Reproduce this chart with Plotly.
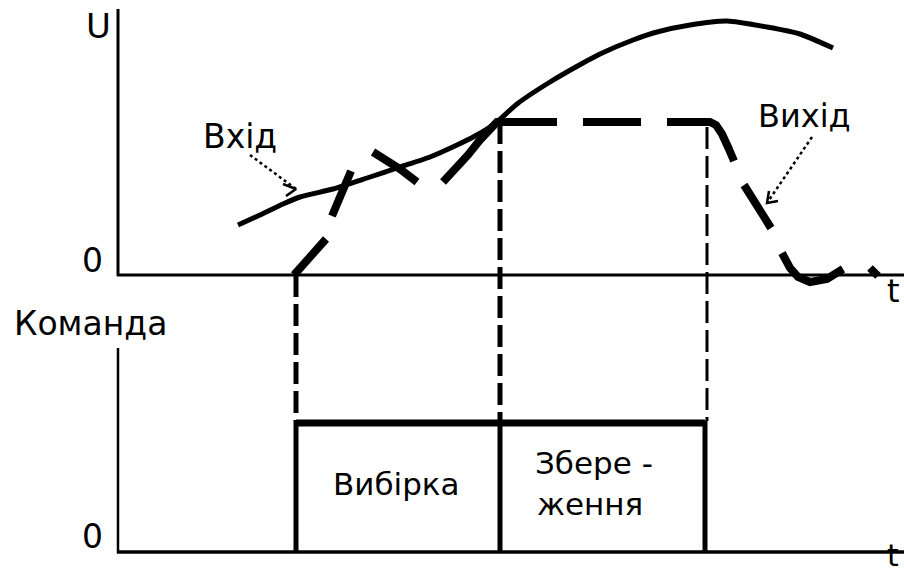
import plotly.graph_objects as go

# Diagram coordinates (horizontal position t, vertical position measured downward)
# Input signal (solid)
input_t = [238, 260, 283, 300, 333, 367, 400, 430, 457, 475, 490, 497, 517, 550, 583,
           600, 633, 657, 690, 727, 767, 800, 833]
input_u = [225, 215, 204, 197, 189, 178, 167, 157, 145, 136, 127, 122, 104, 82, 63,
           54, 40, 32, 25, 21, 27, 34, 48]

# Output signal (thick dashed; None = gap)
output_t = [294, 302, 310, 318, 326, None,
            332, 338, 344, 351, None,
            373, 385, 400, 417, None,
            443, 455, 468, 480, 490, 497, 557, None,
            583, 641, None,
            667, 710, 716, 722, 728, 734, None,
            744, 757, 771, None,
            782, 790, 798, 810, 827, 843, None,
            870, 878]
output_u = [275, 266, 258, 250, 239, None,
            216, 202, 187, 171, None,
            152, 159, 169, 182, None,
            182, 170, 155, 140, 129, 122, 122, None,
            122, 122, None,
            122, 122, 125, 134, 147, 161, None,
            185, 206, 228, None,
            253, 268, 277, 282, 279, 269, None,
            268, 276]

# Command pulse
pulse_t = [296, 296, 705, 705]
pulse_c = [552, 423, 423, 552]
pulse_top_t = [296, 705]
pulse_top_c = [423, 423]
divider_t = [500, 500]
divider_c = [423, 552]

# Vertical dashed guide lines: (t, top, bottom, width)
guide_t = [296, 500, 707]
guide_top = [275, 122, 127]
guide_bottom = [421, 421, 421]
guide_width = [5, 5, 3]

# Axes
axis_lines = [
    # (t0, y0, t1, y1, width)
    (118, 9, 118, 276, 3),
    (117, 275, 904, 275, 3),
    (118, 348, 118, 553, 2.5),
    (117, 552, 904, 552, 3.5),
]

# Pointer arrows (dotted)
arrow_in_t = [250, 296]
arrow_in_u = [155, 189]
arrow_in_head_t = [283, 296, 286]
arrow_in_head_u = [184, 189, 196]
arrow_out_t = [812, 767]
arrow_out_u = [137, 203]
arrow_out_head_t = [778, 767, 769]
arrow_out_head_u = [201, 203, 191]

# Labels: (text, t, y, size, yanchor)
labels = [
    ("U", 98, 26, 34, "middle"),
    ("0", 92, 260, 33, "middle"),
    ("t", 893, 291, 32, "middle"),
    ("Вхід", 240, 136, 33, "middle"),
    ("Вихід", 804, 116, 32, "middle"),
    ("Команда", 90, 323, 33, "middle"),
    ("0", 92, 536, 33, "middle"),
    ("t", 893, 575, 30, "bottom"),
    ("Вибірка", 396, 484, 31, "middle"),
    ("Збере -", 594, 463, 31, "middle"),
    ("ження", 590, 504, 31, "middle"),
]

FONT = "DejaVu Sans"
BLACK = "#000000"

fig = go.Figure()

for (t0, y0, t1, y1, w) in axis_lines:
    fig.add_trace(go.Scatter(x=[t0, t1], y=[y0, y1], mode="lines",
                             line=dict(color=BLACK, width=w), hoverinfo="skip"))

for t, top, bot, w in zip(guide_t, guide_top, guide_bottom, guide_width):
    fig.add_trace(go.Scatter(x=[t, t], y=[top, bot], mode="lines",
                             line=dict(color=BLACK, width=w, dash="22px,7px"),
                             hoverinfo="skip"))

fig.add_trace(go.Scatter(x=input_t, y=input_u, mode="lines",
                         line=dict(color=BLACK, width=5, shape="spline", smoothing=0.6),
                         hoverinfo="skip"))

fig.add_trace(go.Scatter(x=output_t, y=output_u, mode="lines", connectgaps=False,
                         line=dict(color=BLACK, width=8), hoverinfo="skip"))

fig.add_trace(go.Scatter(x=pulse_t, y=pulse_c, mode="lines",
                         line=dict(color=BLACK, width=5), hoverinfo="skip"))
fig.add_trace(go.Scatter(x=pulse_top_t, y=pulse_top_c, mode="lines",
                         line=dict(color=BLACK, width=7), hoverinfo="skip"))
fig.add_trace(go.Scatter(x=divider_t, y=divider_c, mode="lines",
                         line=dict(color=BLACK, width=5), hoverinfo="skip"))

for xs, ys in [(arrow_in_t, arrow_in_u), (arrow_out_t, arrow_out_u)]:
    fig.add_trace(go.Scatter(x=xs, y=ys, mode="lines",
                             line=dict(color=BLACK, width=2.5, dash="3px,3px"),
                             hoverinfo="skip"))
for xs, ys in [(arrow_in_head_t, arrow_in_head_u), (arrow_out_head_t, arrow_out_head_u)]:
    fig.add_trace(go.Scatter(x=xs, y=ys, mode="lines",
                             line=dict(color=BLACK, width=2.5), hoverinfo="skip"))

for text, t, y, size, yanc in labels:
    fig.add_annotation(x=t, y=y, xref="x", yref="y", text=text, showarrow=False,
                       xanchor="center", yanchor=yanc,
                       font=dict(family=FONT, size=size, color=BLACK))

fig.update_layout(
    width=904, height=576,
    margin=dict(l=0, r=0, t=0, b=0),
    paper_bgcolor="white", plot_bgcolor="white",
    showlegend=False,
    xaxis=dict(range=[0, 904], visible=False, fixedrange=True),
    yaxis=dict(range=[576, 0], visible=False, fixedrange=True),
)

fig.write_html("out.html", config={"displayModeBar": False})

# Remove the browser's default page margin so the figure fills the window exactly
with open("out.html", "r", encoding="utf-8") as f:
    html = f.read()
html = html.replace("<head>", "<head><style>html,body{margin:0;padding:0;overflow:hidden;}</style>", 1)
with open("out.html", "w", encoding="utf-8") as f:
    f.write(html)
